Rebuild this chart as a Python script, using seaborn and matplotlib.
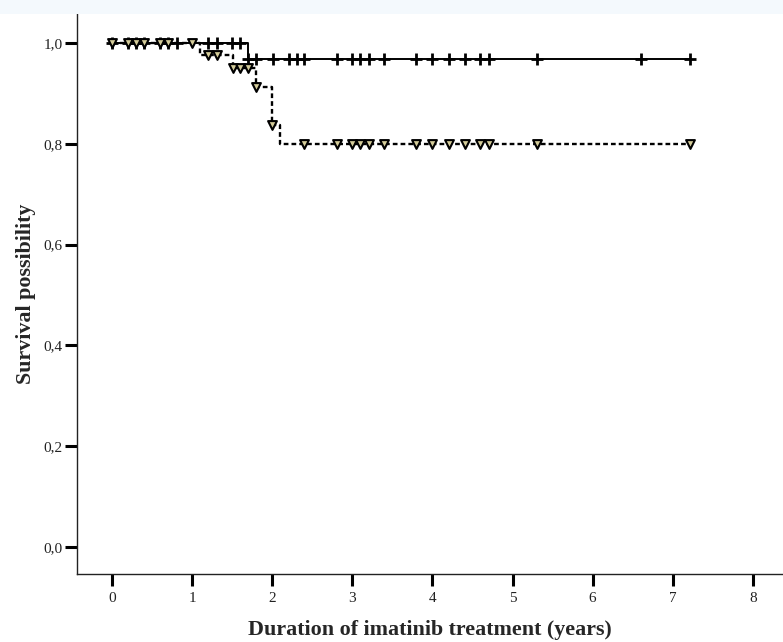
import numpy as np
import pandas as pd
import seaborn as sns
import matplotlib.pyplot as plt
from matplotlib.patches import Rectangle

# step curves (time in years, survival after the step)
solid_times = [0.0, 1.70, 7.22]
solid_surv = [1.0, 0.968, 0.968]
dashed_times = [0.0, 1.10, 1.51, 1.80, 2.00, 2.10, 7.22]
dashed_surv = [1.0, 0.976, 0.950, 0.913, 0.837, 0.799, 0.799]

# censored observations
solid_censor = [0.0, 0.20, 0.30, 0.40, 0.60, 0.70, 0.81, 1.20, 1.31, 1.50, 1.60,
                1.70, 1.80, 2.01, 2.21, 2.31, 2.40, 2.81, 3.00, 3.10, 3.21, 3.40,
                3.80, 4.00, 4.21, 4.41, 4.60, 4.71, 5.31, 6.61, 7.22]
dashed_censor = [0.0, 0.20, 0.30, 0.40, 0.60, 0.70, 1.00, 1.20, 1.31, 1.51, 1.60,
                 1.70, 1.80, 2.00, 2.40, 2.81, 3.00, 3.10, 3.21, 3.40, 3.80, 4.00,
                 4.21, 4.41, 4.60, 4.71, 5.31, 7.22]

x_ticks = [0, 1, 2, 3, 4, 5, 6, 7, 8]
y_ticks = [0.0, 0.2, 0.4, 0.6, 0.8, 1.0]
y_ticklabels = ["0,0", "0,2", "0,4", "0,6", "0,8", "1,0"]


def censor_frame(times, surv, censor):
    idx = np.searchsorted(times, censor, side="right") - 1
    return pd.DataFrame({"t": censor, "s": np.asarray(surv)[idx]})


sns.set_style("ticks")
plt.rcParams["font.family"] = ["Liberation Serif", "DejaVu Serif"]

fig = plt.figure(figsize=(7.83, 6.42), dpi=100)
fig.patches.append(Rectangle((0, 1 - 14 / 642), 1, 14 / 642, transform=fig.transFigure,
                             facecolor="#f4f9fd", edgecolor="none", zorder=0))
ax = fig.add_axes([77 / 783, 1 - 574 / 642, 1 - 77 / 783, (574 - 14) / 642])
ax.patch.set_alpha(0)

solid = pd.DataFrame({"t": solid_times, "s": solid_surv})
dashed = pd.DataFrame({"t": dashed_times, "s": dashed_surv})

sns.lineplot(data=solid, x="t", y="s", drawstyle="steps-post", color="black",
             linewidth=1.4, ax=ax, zorder=2)
sns.scatterplot(data=censor_frame(solid_times, solid_surv, solid_censor), x="t", y="s",
                marker="+", s=70, color="black", linewidth=2.0, ax=ax, zorder=3)

sns.lineplot(data=dashed, x="t", y="s", drawstyle="steps-post", color="black",
             linewidth=1.7, linestyle=(0, (2, 1.3)), ax=ax, zorder=4)
sns.scatterplot(data=censor_frame(dashed_times, dashed_surv, dashed_censor), x="t", y="s",
                marker="v", s=40, facecolor="#d4cc9a", edgecolor="black",
                linewidth=1.5, ax=ax, zorder=5)

ax.set_xlim(-0.437, 8.377)
ax.set_ylim(-0.0536, 1.0575)
ax.set_xticks(x_ticks)
ax.set_yticks(y_ticks)
ax.set_yticklabels(y_ticklabels)
sns.despine(ax=ax)
for sp in ["left", "bottom"]:
    ax.spines[sp].set_linewidth(1.0)
    ax.spines[sp].set_color("#222222")
ax.tick_params(axis="both", length=8.6, width=2.2, color="black",
               labelsize=11, labelcolor="#222222")
ax.tick_params(axis="y", pad=1.5)
ax.tick_params(axis="x", pad=4)

ax.set_xlabel("Duration of imatinib treatment (years)", fontsize=15.8,
              fontweight="bold", labelpad=11)
ax.set_ylabel("Survival possibility", fontsize=15.8, fontweight="bold", labelpad=6)

fig.savefig("out.png", dpi=100)
